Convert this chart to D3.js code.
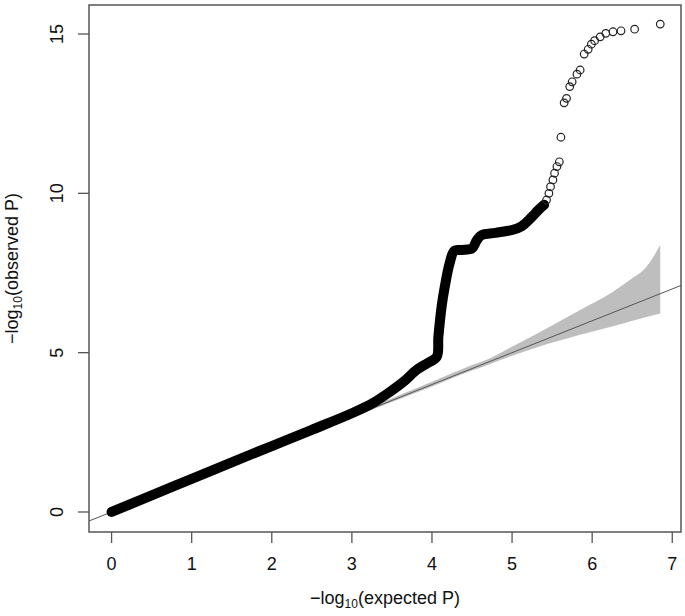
<!DOCTYPE html>
<meta charset="utf-8">
<html>
    <head>
        <title>QQ plot</title>
        <style>
            body { margin: 0; background: #fff; }
            text { font-family: "Liberation Sans", Arial, sans-serif; fill: #111; }
        </style>
    </head>

    <body>
        <div id="viz"></div>

        <script src="https://cdnjs.cloudflare.com/ajax/libs/d3/7.8.5/d3.min.js"></script>
        <script>
            // dense part of the curve (points overlap into a solid stroke)
            var denseX = [0, 0.5, 1, 1.5, 2, 2.5, 3, 3.25, 3.48, 3.65, 3.81, 3.95, 4.06, 4.08, 4.12, 4.16,
                          4.22, 4.28, 4.37, 4.5, 4.56, 4.62, 4.79, 5.0, 5.12, 5.25, 5.33, 5.4];
            var denseY = [0, 0.52, 1.04, 1.56, 2.07, 2.58, 3.1, 3.4, 3.78, 4.1, 4.46, 4.68, 4.87, 5.5, 6.44, 7.07,
                          7.8, 8.2, 8.22, 8.27, 8.53, 8.69, 8.76, 8.85, 8.97, 9.27, 9.48, 9.64];

            // the sparse top points, drawn as open circles
            var sparseX = [5.43, 5.46, 5.48, 5.51, 5.53, 5.56, 5.59, 5.61, 5.65, 5.68, 5.72, 5.75,
                           5.81, 5.85, 5.90, 5.95, 5.99, 6.03, 6.10, 6.17, 6.26, 6.36, 6.53, 6.85];
            var sparseY = [9.79, 10.0, 10.21, 10.42, 10.63, 10.84, 10.99, 11.76, 12.84, 12.98, 13.35, 13.50,
                           13.74, 13.87, 14.37, 14.52, 14.68, 14.79, 14.91, 15.02, 15.07, 15.10, 15.15, 15.31];

            // grey confidence band
            var bandX     = [0, 1, 2, 3, 3.5, 4, 4.5, 4.72, 5.01, 5.43, 5.85, 6.26, 6.47, 6.68, 6.85];
            var bandUpper = [0.02, 1.02, 2.03, 3.05, 3.57, 4.09, 4.61, 4.82, 5.20, 5.76, 6.34, 6.91, 7.28, 7.70, 8.38];
            var bandLower = [-0.02, 0.98, 1.97, 2.96, 3.45, 3.94, 4.44, 4.64, 4.91, 5.26, 5.56, 5.83, 5.98, 6.12, 6.23];

            var xTicks = [0, 1, 2, 3, 4, 5, 6, 7];
            var yTicks = [0, 5, 10, 15];

            var width = 685, height = 616;
            var box = {left: 89, right: 681, top: 5, bottom: 532};

            var svg = d3.select("#viz")
                .append("svg")
                .attr("width", width)
                .attr("height", height);

            var x = d3.scaleLinear().domain([-0.282, 7.109]).range([box.left, box.right]);
            var y = d3.scaleLinear().domain([-0.628, 15.91]).range([box.bottom, box.top]);

            svg.append("clipPath").attr("id", "clip")
                .append("rect")
                .attr("x", box.left).attr("y", box.top)
                .attr("width", box.right - box.left).attr("height", box.bottom - box.top);

            var plot = svg.append("g").attr("clip-path", "url(#clip)");

            // band
            var band = bandX.map(function (d, i) { return [d, bandUpper[i], bandLower[i]]; });
            plot.append("path")
                .datum(band)
                .attr("d", d3.area()
                    .x(function (d) { return x(d[0]); })
                    .y0(function (d) { return y(d[2]); })
                    .y1(function (d) { return y(d[1]); })
                    .curve(d3.curveMonotoneX))
                .attr("fill", "#bebebe");

            // y = x reference line
            var xd = x.domain();
            plot.append("line")
                .attr("x1", x(xd[0])).attr("y1", y(xd[0]))
                .attr("x2", x(xd[1])).attr("y2", y(xd[1]))
                .attr("stroke", "#555")
                .attr("stroke-width", 1);

            // dense points as a thick stroke
            var dense = denseX.map(function (d, i) { return [d, denseY[i]]; });
            plot.append("path")
                .datum(dense)
                .attr("d", d3.line()
                    .x(function (d) { return x(d[0]); })
                    .y(function (d) { return y(d[1]); })
                    .curve(d3.curveCatmullRom))
                .attr("fill", "none")
                .attr("stroke", "#000")
                .attr("stroke-width", 10)
                .attr("stroke-linecap", "round")
                .attr("stroke-linejoin", "round");

            plot.selectAll("circle")
                .data(sparseX)
                .enter()
                .append("circle")
                .attr("cx", function (d) { return x(d); })
                .attr("cy", function (d, i) { return y(sparseY[i]); })
                .attr("r", 3.8)
                .attr("fill", "none")
                .attr("stroke", "#222")
                .attr("stroke-width", 1.2);

            // box
            svg.append("rect")
                .attr("x", box.left).attr("y", box.top)
                .attr("width", box.right - box.left).attr("height", box.bottom - box.top)
                .attr("fill", "none")
                .attr("stroke", "#555")
                .attr("stroke-width", 1.5);

            // x axis
            var xAxis = svg.append("g");
            xAxis.selectAll("line")
                .data(xTicks).enter()
                .append("line")
                .attr("x1", function (d) { return x(d); })
                .attr("x2", function (d) { return x(d); })
                .attr("y1", box.bottom)
                .attr("y2", box.bottom + 11)
                .attr("stroke", "#555")
                .attr("stroke-width", 1.3);
            xAxis.selectAll("text")
                .data(xTicks).enter()
                .append("text")
                .attr("x", function (d) { return x(d); })
                .attr("y", 570)
                .attr("text-anchor", "middle")
                .attr("font-size", 18)
                .text(function (d) { return d; });

            // y axis
            var yAxis = svg.append("g");
            yAxis.selectAll("line")
                .data(yTicks).enter()
                .append("line")
                .attr("x1", box.left - 11)
                .attr("x2", box.left)
                .attr("y1", function (d) { return y(d); })
                .attr("y2", function (d) { return y(d); })
                .attr("stroke", "#555")
                .attr("stroke-width", 1.3);
            yAxis.selectAll("text")
                .data(yTicks).enter()
                .append("text")
                .attr("transform", function (d) { return "translate(63," + y(d) + ") rotate(-90)"; })
                .attr("text-anchor", "middle")
                .attr("font-size", 18)
                .text(function (d) { return d; });

            // axis titles
            function title(g, word) {
                g.append("tspan").text("\u2212log");
                g.append("tspan").attr("font-size", 12).attr("dy", 4).text("10");
                g.append("tspan").attr("dy", -4).text("(" + word + " P)");
            }

            var xt = svg.append("text")
                .attr("x", (box.left + box.right) / 2)
                .attr("y", 604)
                .attr("text-anchor", "middle")
                .attr("font-size", 18);
            title(xt, "expected");

            var yt = svg.append("text")
                .attr("transform", "translate(18," + (box.top + box.bottom) / 2 + ") rotate(-90)")
                .attr("text-anchor", "middle")
                .attr("font-size", 18);
            title(yt, "observed");
        </script>
    </body>
</html>
